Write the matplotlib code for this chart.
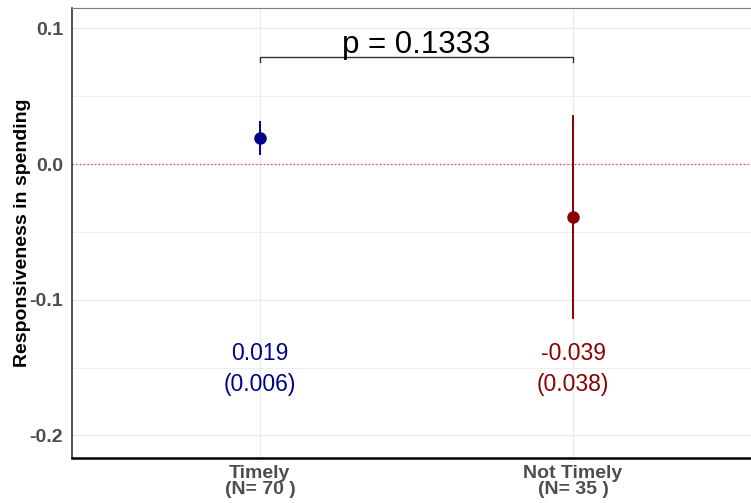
import matplotlib
matplotlib.use("Agg")
import matplotlib.pyplot as plt
import numpy as np

categories = ["Timely\n(N= 70 )", "Not Timely\n(N= 35 )"]
estimates = [0.019, -0.039]
std_errors = [0.006, 0.038]
colors = ["#00008B", "#8B0000"]
est_labels = ["0.019", "-0.039"]
se_labels = ["(0.006)", "(0.038)"]
p_label = "p = 0.1333"
bracket_y = 0.079
bracket_tick = 0.004
yticks = [-0.2, -0.1, 0.0, 0.1]
yminor = [-0.15, -0.05, 0.05]

W, H = 751, 503
fig = plt.figure(figsize=(W/100, H/100), dpi=100)
plt.rcParams['font.family'] = ['Liberation Sans', 'DejaVu Sans']
left, right, top, bottom = 72, 761, 8, 458
ax = fig.add_axes([left/W, (H-bottom)/H, (right-left)/W, (bottom-top)/H])

x = np.arange(1, len(categories)+1)
ax.set_xlim(0.4, 2.6)
ax.set_ylim(-0.2167, 0.115)

for yv in yticks:
    ax.axhline(yv, color="#EBEBEB", lw=1.0, zorder=0)
for yv in yminor:
    ax.axhline(yv, color="#EBEBEB", lw=0.6, zorder=0)
for xv in x:
    ax.axvline(xv, color="#EBEBEB", lw=1.0, zorder=0)

ax.axhline(0, color="#FF3030", lw=0.9, ls=(0, (1, 2)), zorder=1)

for xi, est, se, c in zip(x, estimates, std_errors, colors):
    ax.plot([xi, xi], [est - 1.96*se, est + 1.96*se], color=c, lw=1.4, zorder=2)
    ax.plot(xi, est, 'o', color=c, ms=8, zorder=3)

for xi, el, sl, c in zip(x, est_labels, se_labels, colors):
    ax.text(xi, -0.140, el, color=c, ha='center', va='center', fontsize=16.5)
    ax.text(xi, -0.1625, sl, color=c, ha='center', va='center', fontsize=16.5)

ax.plot([x[0], x[0], x[1], x[1]], [bracket_y - bracket_tick, bracket_y, bracket_y, bracket_y - bracket_tick],
        color="#333333", lw=1.0, zorder=2)
ax.text((x[0]+x[1])/2, bracket_y + 0.003, p_label, ha='center', va='baseline', fontsize=22.5, color='black')

ax.set_xticks(x)
ax.set_xticklabels(categories, fontweight='bold', color='#4D4D4D', fontsize=14, linespacing=0.95)
ax.set_yticks(yticks)
ax.set_yticklabels(["-0.2", "-0.1", "0.0", "0.1"], fontweight='bold', color='#4D4D4D', fontsize=14)
ax.tick_params(axis='both', length=0)
ax.tick_params(axis='x', pad=5)
ax.tick_params(axis='y', pad=6.5)
ax.set_ylabel("Responsiveness in spending", fontweight='bold', fontsize=14, color='black', labelpad=-1.5)

for s in ['top', 'right']:
    ax.spines[s].set_color('#7F7F7F')
    ax.spines[s].set_linewidth(0.8)
ax.spines['left'].set_color('#333333')
ax.spines['left'].set_linewidth(1.2)
ax.spines['bottom'].set_color('black')
ax.spines['bottom'].set_linewidth(1.8)

fig.savefig("out.png", dpi=100)
